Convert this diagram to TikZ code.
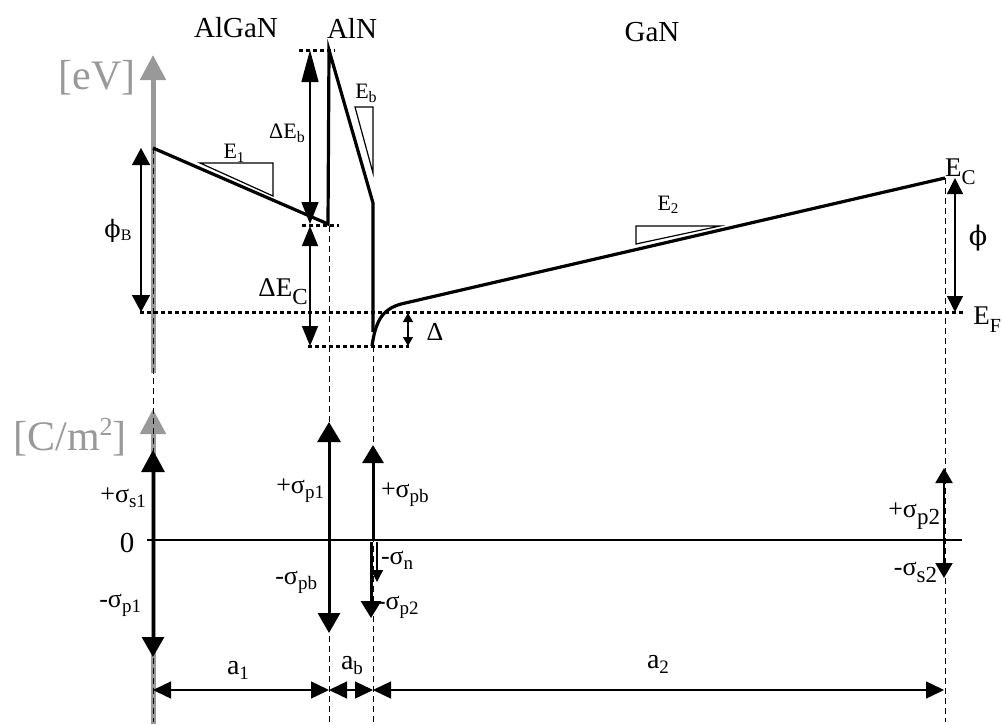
\documentclass[tikz,border=0pt]{standalone}
\usepackage{fontspec}
\setmainfont{Liberation Serif}
\newfontfamily\phifont{DejaVu Serif}
\usetikzlibrary{arrows.meta}
\newcommand\fsz[1]{\fontsize{#1}{#1}\selectfont}
\newcommand\lo[3]{\raisebox{-#1pt}{\fsz{#2}#3}}
\definecolor{axgray}{gray}{0.6}
\tikzset{
  band/.style={line width=3.2pt, line join=miter},
  dotline/.style={line width=3pt, dash pattern=on 4pt off 3pt},
  dashline/.style={line width=1pt, dash pattern=on 6pt off 4pt},
  thinline/.style={line width=1.2pt},
  dimarrow/.style={line width=1.4pt, {Triangle[length=18pt,width=17pt]}-{Triangle[length=18pt,width=17pt]}},
  charge/.style={line width=3pt},
  axis/.style={line width=5pt, draw=axgray, -{Triangle[length=25pt,width=25pt]}},
  lbl/.style={inner sep=0pt, outer sep=0pt},
}
\begin{document}
\begin{tikzpicture}[x=1pt,y=-1pt]
\useasboundingbox (0,0) rectangle (1002,724);
% key coordinates
\coordinate (A0) at (153,148);
\coordinate (A1) at (328,224);
\coordinate (B0) at (329,50);
\coordinate (B1) at (373,203);
\coordinate (B2) at (373,332);
\coordinate (C0) at (372,346);
\coordinate (C1) at (401,304);
\coordinate (C2) at (945,178);
% gray axes
\coordinate (gU0) at (153,373);
\coordinate (gU1) at (153,55);
\coordinate (gL0) at (153,724);
\coordinate (gL1) at (153,409);
\draw[axis] (gU0) -- (gU1);
\draw[axis] (gL0) -- (gL1);
% dashed verticals
\coordinate (d1a) at (153,148); \coordinate (d1b) at (153,722);
\coordinate (d2a) at (329,226); \coordinate (d2b) at (329,722);
\coordinate (d3a) at (373,346); \coordinate (d3b) at (373,722);
\coordinate (d4a) at (945,178); \coordinate (d4b) at (945,722);
\draw[dashline] (d1a) -- (d1b);
\draw[dashline] (d2a) -- (d2b);
\draw[dashline] (d3a) -- (d3b);
\draw[dashline] (d4a) -- (d4b);
% dotted levels
\coordinate (t1a) at (299,50);  \coordinate (t1b) at (335,50);
\coordinate (t2a) at (302,225); \coordinate (t2b) at (339,225);
\coordinate (t3a) at (140,312); \coordinate (t3b) at (963,312);
\coordinate (t4a) at (308,346); \coordinate (t4b) at (409,346);
\draw[dotline] (t1a) -- (t1b);
\draw[dotline] (t2a) -- (t2b);
\draw[dotline] (t3a) -- (t3b);
\draw[dotline] (t4a) -- (t4b);
% band profile
\draw[band] (A0) -- (A1) -- (B0) -- (B1) -- (B2);
\draw[band] (C0) .. controls (376,318) and (384,309) .. (C1) -- (C2);
% slope triangles
\draw[thinline] (200,163) -- (273,163) -- (273,196) -- cycle;
\draw[thinline] (355,107) -- (373,107) -- (373,173) -- cycle;
\draw[thinline] (636,226) -- (720,226) -- (636,244) -- cycle;
% energy arrows
\coordinate (eb0) at (310,50);  \coordinate (eb1) at (310,224);
\coordinate (ec0) at (310,226); \coordinate (ec1) at (310,346);
\coordinate (pb0) at (141,148); \coordinate (pb1) at (141,312);
\coordinate (dl0) at (408,313); \coordinate (dl1) at (408,346);
\coordinate (ph0) at (955,178); \coordinate (ph1) at (955,312);
\draw[line width=1.4pt, {Triangle[length=32pt,width=17pt]}-{Triangle[length=22pt,width=17pt]}] (eb0) -- (eb1);
\draw[line width=1.4pt, {Triangle[length=20pt,width=16pt]}-{Triangle[length=20pt,width=16pt]}] (ec0) -- (ec1);
\draw[line width=1.4pt, {Triangle[length=17pt,width=18pt]}-{Triangle[length=17pt,width=18pt]}] (pb0) -- (pb1);
\draw[line width=1.2pt, {Triangle[length=9pt,width=10pt]}-{Triangle[length=9pt,width=10pt]}] (dl0) -- (dl1);
\draw[line width=1.4pt, {Triangle[length=16pt,width=16pt]}-{Triangle[length=16pt,width=16pt]}] (ph0) -- (ph1);
% zero line
\coordinate (z0) at (147,540); \coordinate (z1) at (962,540);
\draw[thinline] (z0) -- (z1);
% charge arrows
\coordinate (s1a) at (153,450); \coordinate (s1b) at (153,657);
\coordinate (s2a) at (329,422); \coordinate (s2b) at (329,633);
\coordinate (s3o) at (373,541); \coordinate (s3a) at (373,445);
\coordinate (s4o) at (377,542); \coordinate (s4a) at (377,582);
\coordinate (s5o) at (371,542); \coordinate (s5a) at (371,618);
\coordinate (s6o) at (944,540); \coordinate (s6a) at (944,468); \coordinate (s6b) at (944,578);
\draw[charge, {Triangle[length=22pt,width=23pt]}-{Triangle[length=20pt,width=22pt]}] (s1a) -- (s1b);
\draw[charge, {Triangle[length=20pt,width=23pt]}-{Triangle[length=20pt,width=22pt]}] (s2a) -- (s2b);
\draw[charge, -{Triangle[length=18pt,width=21pt]}] (s3o) -- (s3a);
\draw[charge, -{Triangle[length=17pt,width=20pt]}] (s5o) -- (s5a);
\draw[line width=1.5pt, -{Triangle[length=12pt,width=12pt]}] (s4o) -- (s4a);
\draw[line width=2pt, -{Triangle[length=15pt,width=17pt]}] (s6o) -- (s6a);
\draw[line width=2pt, -{Triangle[length=15pt,width=17pt]}] (s6o) -- (s6b);
% dimension line
\coordinate (m0) at (153,690); \coordinate (m1) at (329,690);
\coordinate (m2) at (373,690); \coordinate (m3) at (944,690);
\draw[dimarrow] (m0) -- (m1);
\draw[dimarrow] (m1) -- (m2);
\draw[dimarrow] (m2) -- (m3);
% titles
\node[lbl] (tAlGaN) at (236,28) {\fsz{29}AlGaN};
\node[lbl] (tAlN) at (352,28) {\fsz{29}AlN};
\node[lbl] (tGaN) at (652,32) {\fsz{29}GaN};
\node[lbl, text=axgray] (uEV) at (97,78) {\fsz{42}[eV]};
\node[lbl, text=axgray] (uC) at (70,437) {\fsz{42}[C/m\raisebox{15pt}{\fsz{26}2}]};
% energy labels
\node[lbl] (lE1) at (234,153) {\fsz{22}E\lo{4}{15}{1}};
\node[lbl] (lDEb) at (287,133) {\fsz{22}ΔE\lo{4}{16}{b}};
\node[lbl] (lDEC) at (283,292) {\fsz{27}ΔE\lo{8}{23}{C}};
\node[lbl] (lphiB) at (118,231) {\fsz{24}{\phifont ϕ}\lo{3}{16}{B}};
\node[lbl] (lEb) at (366,93) {\fsz{22}E\lo{4}{16}{b}};
\node[lbl] (lE2) at (668,205) {\fsz{22}E\lo{3}{15}{2}};
\node[lbl, anchor=west] (lEC) at (945,172) {\fsz{27}E\lo{8}{21}{C}};
\node[lbl] (lphi) at (978,238) {\fsz{27}{\phifont ϕ}};
\node[lbl, anchor=east] (lEF) at (1001,320) {\fsz{27}E\lo{8}{20}{F}};
\node[lbl] (lDelta) at (435,332) {\fsz{26}Δ};
% charge labels
\node[lbl] (lzero) at (127,543) {\fsz{29}0};
\node[lbl, anchor=east] (ls1) at (146,498) {\fsz{26}+σ\lo{5}{19}{s1}};
\node[lbl, anchor=east] (lp1m) at (141,605) {\fsz{26}-σ\lo{5}{19}{p1}};
\node[lbl, anchor=east] (lp1p) at (324,491) {\fsz{26}+σ\lo{5}{19}{p1}};
\node[lbl, anchor=east] (lpbm) at (317,582) {\fsz{26}-σ\lo{5}{19}{pb}};
\node[lbl, anchor=west] (lpbp) at (381,495) {\fsz{26}+σ\lo{5}{19}{pb}};
\node[lbl, anchor=west] (ln) at (381,560) {\fsz{26}-σ\lo{5}{19}{n}};
\node[lbl, anchor=west] (lp2m) at (377,607) {\fsz{26}-σ\lo{5}{19}{p2}};
\node[lbl, anchor=east] (lp2p) at (940,516) {\fsz{26}+σ\lo{7}{23}{p2}};
\node[lbl, anchor=east] (ls2m) at (937,572) {\fsz{26}-σ\lo{7}{23}{s2}};
% dimension labels
\node[lbl] (la1) at (238,670) {\fsz{28}a\lo{5}{19}{1}};
\node[lbl] (lab) at (352,666) {\fsz{28}a\lo{5}{19}{b}};
\node[lbl] (la2) at (658,664) {\fsz{28}a\lo{5}{19}{2}};
\end{tikzpicture}
\end{document}
